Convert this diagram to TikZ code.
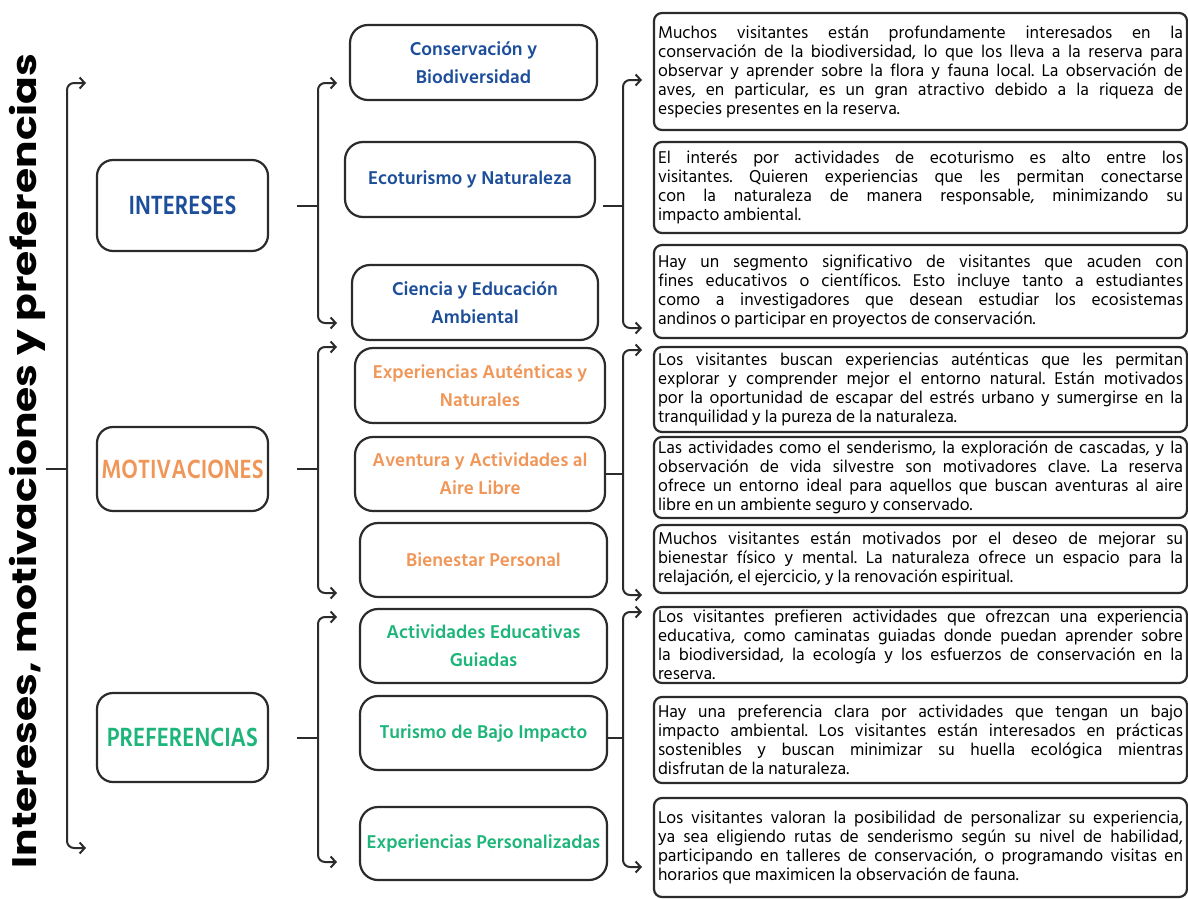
\documentclass[tikz,border=0pt]{standalone}
\usepackage{fontspec}
\setmainfont{Hind Siliguri}
\newfontfamily\headfont{Hind Siliguri}[FakeStretch=0.85]
\newfontfamily\titlefont{Poppins}[FakeStretch=1.2]
\usetikzlibrary{calc}
\usetikzlibrary{arrows.meta}
\definecolor{azul}{HTML}{1D4E9A}
\definecolor{naranja}{HTML}{EF9658}
\definecolor{verde}{HTML}{1DB57A}
\definecolor{linea}{HTML}{2B2B2B}
\tikzset{%
  myedge/.style={<->, >={Straight Barb[length=5pt,width=11pt]}, line width=2pt, draw=linea, rounded corners=7pt},
  myline/.style={line width=2pt, draw=linea},
  mycat/.style={draw=linea, line width=2.2pt, rounded corners=16pt, minimum width=171pt,
    font=\headfont\fontsize{27}{30}\selectfont\bfseries},
  mysub/.style={draw=linea, line width=2.2pt, rounded corners=18pt, align=center, inner sep=0pt,
    font=\fontsize{19}{28}\selectfont\bfseries},
  mytext/.style={draw=linea, line width=2.2pt, rounded corners=8pt, inner xsep=4pt, inner ysep=0pt,
    text width=525pt, align=justify, font=\fontsize{17.5}{19}\selectfont}
}
\frenchspacing
\hyphenpenalty=10000
\exhyphenpenalty=10000

\begin{document}
\begin{tikzpicture}[x=1pt, y=-1pt]
\useasboundingbox (0,0) rectangle (1188,899);

\node [rotate=90, font=\titlefont\fontsize{34}{34}\selectfont\bfseries] (titulo) at (27,461) {Intereses, motivaciones y preferencias};

% categorias
\node [mycat, minimum height=91pt, text=azul] (cint) at (182.5,205.5) {INTERESES};
\node [mycat, minimum height=84pt, text=naranja] (cmot) at (182.5,469) {MOTIVACIONES};
\node [mycat, minimum height=89pt, text=verde] (cpre) at (182.5,737.5) {PREFERENCIAS};

% subtemas
\node [mysub, minimum width=247pt, minimum height=75pt, text=azul] (sub1) at (473.5,62.5) {Conservación y\\Biodiversidad};
\node [mysub, minimum width=250pt, minimum height=75pt, text=azul] (sub2) at (470,179.5) {Ecoturismo y Naturaleza};
\node [mysub, minimum width=246pt, minimum height=75pt, text=azul] (sub3) at (475,302.5) {Ciencia y Educación\\Ambiental};
\node [mysub, minimum width=250pt, minimum height=75pt, text=naranja] (sub4) at (480,385.5) {Experiencias Auténticas y\\Naturales};
\node [mysub, minimum width=250pt, minimum height=74pt, text=naranja] (sub5) at (480,474) {Aventura y Actividades al\\Aire Libre};
\node [mysub, minimum width=247pt, minimum height=74pt, text=naranja] (sub6) at (483.5,560) {Bienestar Personal};
\node [mysub, minimum width=247pt, minimum height=74pt, text=verde] (sub7) at (483.5,646) {Actividades Educativas\\Guiadas};
\node [mysub, minimum width=247pt, minimum height=74pt, text=verde] (sub8) at (483.5,733) {Turismo de Bajo Impacto};
\node [mysub, minimum width=247pt, minimum height=73pt, text=verde] (sub9) at (483.5,843.5) {Experiencias Personalizadas};

% descripciones
\node [mytext, minimum height=117pt] (txt1) at (920.5,71.5) {Muchos visitantes están profundamente interesados en la\linebreak conservación de la biodiversidad, lo que los lleva a la reserva para\linebreak observar y aprender sobre la flora y fauna local. La observación de\linebreak aves, en particular, es un gran atractivo debido a la riqueza de\linebreak especies presentes en la reserva.};
\node [mytext, minimum height=91pt] (txt2) at (920.5,187.5) {El interés por actividades de ecoturismo es alto entre los\linebreak visitantes. Quieren experiencias que les permitan conectarse\linebreak con la naturaleza de manera responsable, minimizando su\linebreak impacto ambiental.};
\node [mytext, minimum height=93pt] (txt3) at (920.5,291.5) {Hay un segmento significativo de visitantes que acuden con\linebreak fines educativos o científicos. Esto incluye tanto a estudiantes\linebreak como a investigadores que desean estudiar los ecosistemas\linebreak andinos o participar en proyectos de conservación.};
\node [mytext, minimum height=85pt] (txt4) at (920.5,389.5) {Los visitantes buscan experiencias auténticas que les permitan\linebreak explorar y comprender mejor el entorno natural. Están motivados\linebreak por la oportunidad de escapar del estrés urbano y sumergirse en la\linebreak tranquilidad y la pureza de la naturaleza.};
\node [mytext, minimum height=81pt] (txt5) at (920.5,477.5) {Las actividades como el senderismo, la exploración de cascadas, y la\linebreak observación de vida silvestre son motivadores clave. La reserva\linebreak ofrece un entorno ideal para aquellos que buscan aventuras al aire\linebreak libre en un ambiente seguro y conservado.};
\node [mytext, minimum height=68pt] (txt6) at (920.5,559) {Muchos visitantes están motivados por el deseo de mejorar su\linebreak bienestar físico y mental. La naturaleza ofrece un espacio para la\linebreak relajación, el ejercicio, y la renovación espiritual.};
\node [mytext, minimum height=76pt] (txt7) at (920.5,645) {Los visitantes prefieren actividades que ofrezcan una experiencia\linebreak educativa, como caminatas guiadas donde puedan aprender sobre\linebreak la biodiversidad, la ecología y los esfuerzos de conservación en la\linebreak reserva.};
\node [mytext, minimum height=86pt] (txt8) at (920.5,740) {Hay una preferencia clara por actividades que tengan un bajo\linebreak impacto ambiental. Los visitantes están interesados en prácticas\linebreak sostenibles y buscan minimizar su huella ecológica mientras\linebreak disfrutan de la naturaleza.};
\node [mytext, minimum height=99pt] (txt9) at (920.5,847.5) {Los visitantes valoran la posibilidad de personalizar su experiencia,\linebreak ya sea eligiendo rutas de senderismo según su nivel de habilidad,\linebreak participando en talleres de conservación, o programando visitas en\linebreak horarios que maximicen la observación de fauna.};

% corchetes
\foreach \n/\xa/\ya/\yb in {main/67/83/848, int/318/83/323, mot/318/347/593, pre/318/617/862,
                              intd/623/80/328, motd/623/350/595, pred/623/612/867} {
  \coordinate (\n-a) at (\xa,\ya);
  \coordinate (\n-b) at (\xa,\yb);
  \coordinate (\n-top) at (\xa+19,\ya);
  \coordinate (\n-bot) at (\xa+19,\yb);
  \draw [myedge] (\n-top) -- (\n-a) -- (\n-b) -- (\n-bot);
}

\draw [myline] ([xshift=-3pt]titulo.south |- cmot.west) -- (cmot.west -| main-a);
\draw [myline] ([xshift=28pt]cint.east) -- (cint.east -| int-a);
\draw [myline] ([xshift=28pt]cmot.east) -- (cmot.east -| mot-a);
\draw [myline] ([xshift=28pt]cpre.east) -- (cpre.east -| pre-a);
\draw [myline] ([xshift=7pt]sub2.east |- cint.east) -- (cint.east -| intd-a);
\draw [myline] (sub5.east) -- (sub5.east -| motd-a);
\draw [myline] (sub8.east |- cpre.east) -- (cpre.east -| pred-a);
\end{tikzpicture}
\end{document}
